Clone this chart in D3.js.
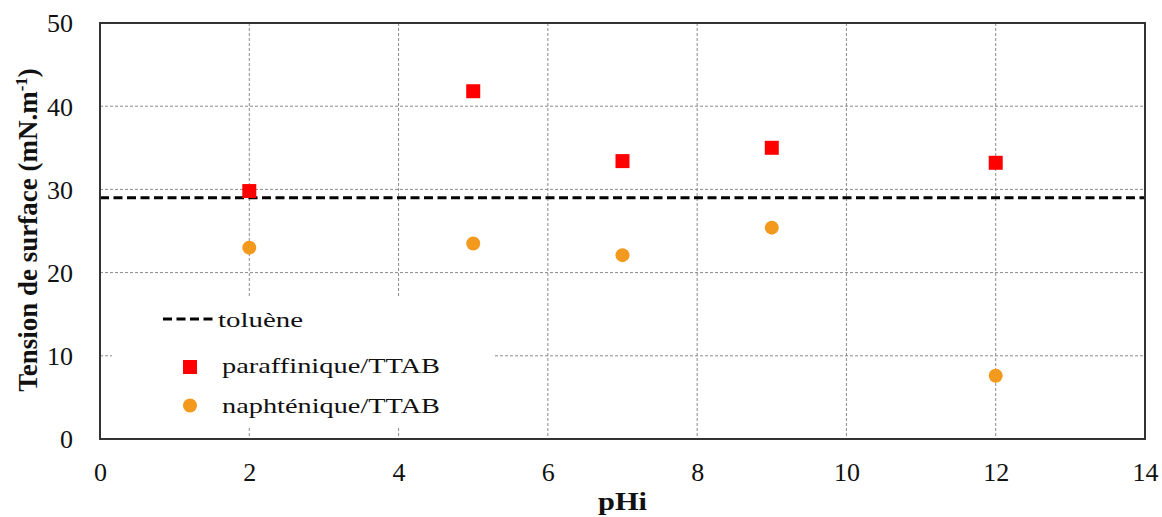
<!DOCTYPE html>
<html>
<head>
<meta charset="utf-8">
<script src="https://cdn.jsdelivr.net/npm/d3@7"></script>
<style>
  html, body { margin: 0; padding: 0; background: #fff; }
  svg { display: block; }
  text { font-family: "Liberation Serif", "Times New Roman", serif; fill: #111; }
</style>
</head>
<body>
<svg id="chart" width="1162" height="517"></svg>
<script>
// pH values and surface tension measurements (mN/m)
const pHi = [2, 5, 7, 9, 12];
const paraffinique = [29.8, 41.8, 33.4, 35.0, 33.2];
const naphtenique = [23.0, 23.5, 22.1, 25.4, 7.6];
const toluene = 29.0;

const xTicks = [0, 2, 4, 6, 8, 10, 12, 14];
const yTicks = [0, 10, 20, 30, 40, 50];
const legendLabels = ["toluène", "paraffinique/TTAB", "naphténique/TTAB"];

const colRed = "#ff0000";
const colOrange = "#f39a1e";

const svg = d3.select("#chart");
const m = { left: 100, right: 1145, top: 23, bottom: 439 };

const x = d3.scaleLinear().domain([0, 14]).range([m.left, m.right]);
const y = d3.scaleLinear().domain([0, 50]).range([m.bottom, m.top]);

// grid lines
const grid = svg.append("g");
grid.selectAll("line.h").data(yTicks.filter(v => v > 0 && v < 50)).join("line")
  .attr("x1", m.left).attr("x2", m.right)
  .attr("y1", d => y(d)).attr("y2", d => y(d))
  .attr("stroke", "#8a8a8a").attr("stroke-width", 1).attr("stroke-dasharray", "3,2");
grid.selectAll("line.v").data(xTicks.filter(v => v > 0 && v < 14)).join("line")
  .attr("y1", m.top).attr("y2", m.bottom)
  .attr("x1", d => x(d)).attr("x2", d => x(d))
  .attr("stroke", "#8a8a8a").attr("stroke-width", 1).attr("stroke-dasharray", "3,2");

// toluene reference line
svg.append("line")
  .attr("x1", x(0)).attr("x2", x(14))
  .attr("y1", y(toluene)).attr("y2", y(toluene))
  .attr("stroke", "#000").attr("stroke-width", 3).attr("stroke-dasharray", "9,4.5");

// axes (labels only)
const xAxis = d3.axisBottom(x).tickValues(xTicks).tickSize(0).tickPadding(0).tickFormat(d3.format("d"));
const gx = svg.append("g").attr("transform", `translate(0,${m.bottom})`).call(xAxis);
gx.select(".domain").remove();
gx.selectAll("text").attr("dy", null).attr("y", 42)
  .style("font-size", "26px").style("font-family", "Liberation Serif").attr("fill", "#111");

const yAxis = d3.axisLeft(y).tickValues(yTicks).tickSize(0).tickPadding(0).tickFormat(d3.format("d"));
const gy = svg.append("g").attr("transform", `translate(${m.left},0)`).call(yAxis);
gy.select(".domain").remove();
gy.selectAll("text").attr("x", -27).attr("dy", "0.34em")
  .style("font-size", "26px").style("font-family", "Liberation Serif").attr("fill", "#111");

// frame
svg.append("rect")
  .attr("x", m.left).attr("y", m.top)
  .attr("width", m.right - m.left).attr("height", m.bottom - m.top)
  .attr("fill", "none").attr("stroke", "#333").attr("stroke-width", 2);

// data marks
svg.append("g").selectAll("rect").data(pHi).join("rect")
  .attr("x", (d) => x(d) - 7).attr("y", (d, i) => y(paraffinique[i]) - 7)
  .attr("width", 14).attr("height", 14).attr("fill", colRed);

svg.append("g").selectAll("circle").data(pHi).join("circle")
  .attr("cx", d => x(d)).attr("cy", (d, i) => y(naphtenique[i]))
  .attr("r", 7).attr("fill", colOrange);

// legend
const lg = svg.append("g");
lg.append("rect").attr("x", 112).attr("y", 297).attr("width", 381).attr("height", 129).attr("fill", "#fff");
lg.append("line").attr("x1", 163).attr("x2", 214).attr("y1", 319).attr("y2", 319)
  .attr("stroke", "#000").attr("stroke-width", 3).attr("stroke-dasharray", "9,4.5");
lg.append("rect").attr("x", 183).attr("y", 360).attr("width", 14).attr("height", 14).attr("fill", colRed);
lg.append("circle").attr("cx", 190).attr("cy", 405.5).attr("r", 7).attr("fill", colOrange);

const legendPos = [
  { x: 218, y: 327, w: 85 },
  { x: 222, y: 373, w: 218 },
  { x: 222, y: 413, w: 218 }
];
lg.selectAll("text").data(legendLabels).join("text")
  .attr("x", (d, i) => legendPos[i].x).attr("y", (d, i) => legendPos[i].y)
  .attr("textLength", (d, i) => legendPos[i].w).attr("lengthAdjust", "spacingAndGlyphs")
  .style("font-size", "22px").text(d => d);

// axis titles
svg.append("text")
  .attr("x", (m.left + m.right) / 2).attr("y", 510)
  .attr("text-anchor", "middle")
  .attr("textLength", 49).attr("lengthAdjust", "spacingAndGlyphs")
  .style("font-size", "26px").style("font-weight", "bold")
  .text("pHi");

const yt = svg.append("text")
  .attr("transform", "translate(37,230) rotate(-90)")
  .attr("text-anchor", "middle")
  .style("font-size", "27px").style("font-weight", "bold");
yt.append("tspan").text("Tension de surface (mN.m");
yt.append("tspan").attr("dy", -10).style("font-size", "17px").text("-1");
yt.append("tspan").attr("dy", 10).text(")");
</script>
</body>
</html>
